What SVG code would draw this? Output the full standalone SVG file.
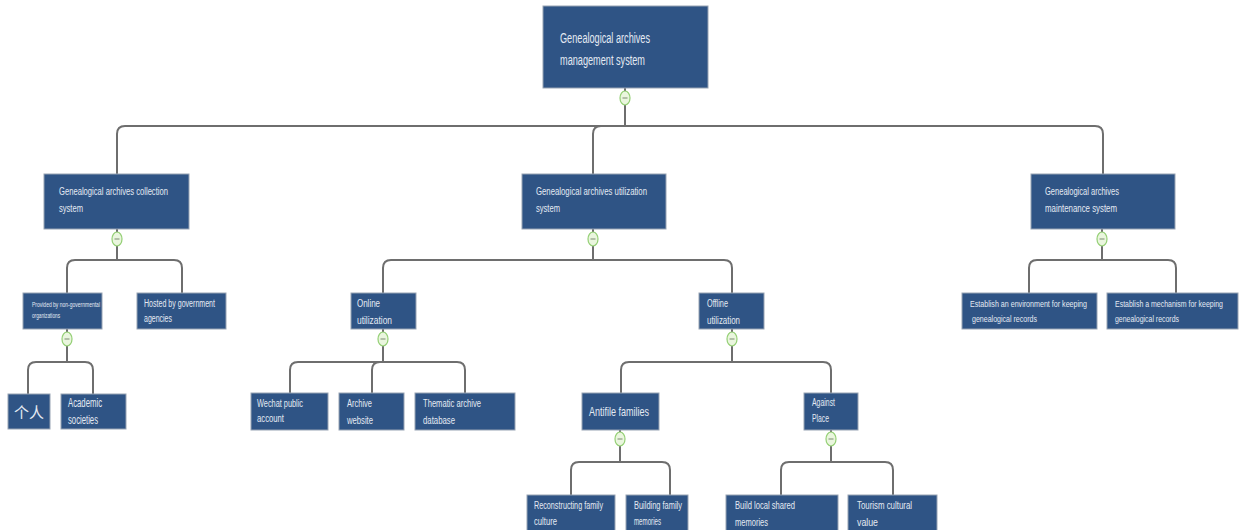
<svg xmlns="http://www.w3.org/2000/svg" width="1241" height="530" viewBox="0 0 1241 530">
<style>
.box{fill:#2f5485;stroke:#98a3b3;stroke-width:1}
.t{fill:#e4eaf3;font-family:"Liberation Sans Narrow","Liberation Sans",Arial,sans-serif}
.c{fill:none;stroke:#6e6e6e;stroke-width:2;stroke-linecap:round}
.k{fill:#eaf6de;stroke:#93cf74;stroke-width:1.2}
.m{stroke:#7a8a70;stroke-width:1}
</style>
<rect width="1241" height="530" fill="#ffffff"/>
<defs>
<g id="col"><ellipse cx="0" cy="0" rx="5" ry="7" class="k"/><line x1="-2.5" y1="0" x2="2.5" y2="0" class="m"/></g>
</defs>
<g id="connectors">
<path class="c" d="M625,88 V91 M625,105 V126"/>
<path class="c" d="M625,126 H125 Q117,126 117,134 V174"/>
<path class="c" d="M625,126 H601 Q593,126 593,134 V174"/>
<path class="c" d="M625,126 H1095 Q1103,126 1103,134 V174"/>
<path class="c" d="M117,229 V232 M117,246 V260 H75 Q67,260 67,268 V293 M117,260 H174 Q182,260 182,268 V293"/>
<path class="c" d="M593,229 V232 M593,246 V260 H391 Q383,260 383,268 V293 M593,260 H724 Q732,260 732,268 V293"/>
<path class="c" d="M1102,229 V232 M1102,246 V260 H1037 Q1029,260 1029,268 V293 M1102,260 H1168 Q1176,260 1176,268 V293"/>
<path class="c" d="M67,329 V332 M67,346 V362 H36 Q28,362 28,370 V394 M67,362 H85 Q93,362 93,370 V394"/>
<path class="c" d="M383,329 V332 M383,346 V362 H298 Q290,362 290,370 V393 M383,362 H380 Q372,362 372,370 V393 M383,362 H457 Q465,362 465,370 V393"/>
<path class="c" d="M732,329 V332 M732,346 V362 H629 Q621,362 621,370 V393 M732,362 H823 Q831,362 831,370 V393"/>
<path class="c" d="M620,430 V432 M620,446 V462 H579 Q571,462 571,470 V495 M620,462 H662 Q670,462 670,470 V495"/>
<path class="c" d="M831,430 V432 M831,446 V462 H789 Q781,462 781,470 V495 M831,462 H885 Q893,462 893,470 V495"/>
<use href="#col" x="625" y="98"/>
<use href="#col" x="117" y="239"/>
<use href="#col" x="593" y="239"/>
<use href="#col" x="1102" y="239"/>
<use href="#col" x="67" y="339"/>
<use href="#col" x="383" y="339"/>
<use href="#col" x="732" y="339"/>
<use href="#col" x="620" y="439"/>
<use href="#col" x="831" y="439"/>
</g>
<g id="root"><rect class="box" x="543" y="6" width="165" height="82"/>
<text class="t" font-size="14" x="560" y="43" textLength="90" lengthAdjust="spacingAndGlyphs">Genealogical archives</text>
<text class="t" font-size="14" x="560" y="65" textLength="85" lengthAdjust="spacingAndGlyphs">management system</text></g>
<g id="collection"><rect class="box" x="44" y="174" width="145" height="55"/>
<text class="t" font-size="11" x="59" y="195" textLength="109" lengthAdjust="spacingAndGlyphs">Genealogical archives collection</text>
<text class="t" font-size="11" x="59" y="212" textLength="24" lengthAdjust="spacingAndGlyphs">system</text></g>
<g id="utilization"><rect class="box" x="522" y="174" width="144" height="55"/>
<text class="t" font-size="11" x="536" y="195" textLength="111" lengthAdjust="spacingAndGlyphs">Genealogical archives utilization</text>
<text class="t" font-size="11" x="536" y="212" textLength="24" lengthAdjust="spacingAndGlyphs">system</text></g>
<g id="maintenance"><rect class="box" x="1031" y="174" width="144" height="55"/>
<text class="t" font-size="11" x="1045" y="195" textLength="74" lengthAdjust="spacingAndGlyphs">Genealogical archives</text>
<text class="t" font-size="11" x="1045" y="212" textLength="72" lengthAdjust="spacingAndGlyphs">maintenance system</text></g>
<g id="provided"><rect class="box" x="23" y="293" width="79" height="36"/>
<text class="t" font-size="6.5" x="32" y="307" textLength="68" lengthAdjust="spacingAndGlyphs">Provided by non-governmental</text>
<text class="t" font-size="6.5" x="32" y="318" textLength="28" lengthAdjust="spacingAndGlyphs">organizations</text></g>
<g id="hosted"><rect class="box" x="137" y="293" width="89" height="36"/>
<text class="t" font-size="10" x="144" y="307" textLength="71" lengthAdjust="spacingAndGlyphs">Hosted by government</text>
<text class="t" font-size="10" x="144" y="322" textLength="28" lengthAdjust="spacingAndGlyphs">agencies</text></g>
<g id="geren"><rect class="box" x="8" y="394" width="42" height="35"/>
<text class="t" font-size="15" x="29" y="418" text-anchor="middle" style="font-family:'Noto Sans CJK SC',sans-serif">个人</text></g>
<g id="academic"><rect class="box" x="61" y="394" width="65" height="35"/>
<text class="t" font-size="12" x="68" y="407" textLength="34" lengthAdjust="spacingAndGlyphs">Academic</text>
<text class="t" font-size="12" x="68" y="424" textLength="30" lengthAdjust="spacingAndGlyphs">societies</text></g>
<g id="online"><rect class="box" x="351" y="293" width="65" height="36"/>
<text class="t" font-size="11" x="357" y="307" textLength="23" lengthAdjust="spacingAndGlyphs">Online</text>
<text class="t" font-size="11" x="357" y="324" textLength="35" lengthAdjust="spacingAndGlyphs">utilization</text></g>
<g id="offline"><rect class="box" x="699" y="293" width="65" height="36"/>
<text class="t" font-size="11" x="707" y="307" textLength="21" lengthAdjust="spacingAndGlyphs">Offline</text>
<text class="t" font-size="11" x="707" y="324" textLength="33" lengthAdjust="spacingAndGlyphs">utilization</text></g>
<g id="env"><rect class="box" x="962" y="293" width="135" height="36"/>
<text class="t" font-size="9" x="970" y="307" textLength="117" lengthAdjust="spacingAndGlyphs">Establish an environment for keeping</text>
<text class="t" font-size="9" x="972" y="322" textLength="65" lengthAdjust="spacingAndGlyphs">genealogical records</text></g>
<g id="mech"><rect class="box" x="1107" y="293" width="131" height="36"/>
<text class="t" font-size="9" x="1115" y="307" textLength="108" lengthAdjust="spacingAndGlyphs">Establish a mechanism for keeping</text>
<text class="t" font-size="9" x="1115" y="322" textLength="64" lengthAdjust="spacingAndGlyphs">genealogical records</text></g>
<g id="wechat"><rect class="box" x="251" y="393" width="77" height="37"/>
<text class="t" font-size="10" x="257" y="407" textLength="46" lengthAdjust="spacingAndGlyphs">Wechat public</text>
<text class="t" font-size="10" x="257" y="422" textLength="27" lengthAdjust="spacingAndGlyphs">account</text></g>
<g id="website"><rect class="box" x="339" y="393" width="65" height="37"/>
<text class="t" font-size="11" x="347" y="407" textLength="25" lengthAdjust="spacingAndGlyphs">Archive</text>
<text class="t" font-size="11" x="347" y="424" textLength="26" lengthAdjust="spacingAndGlyphs">website</text></g>
<g id="thematic"><rect class="box" x="415" y="393" width="100" height="37"/>
<text class="t" font-size="11" x="423" y="407" textLength="58" lengthAdjust="spacingAndGlyphs">Thematic archive</text>
<text class="t" font-size="11" x="423" y="424" textLength="32" lengthAdjust="spacingAndGlyphs">database</text></g>
<g id="antifile"><rect class="box" x="582" y="393" width="77" height="37"/>
<text class="t" font-size="13" x="589" y="416" textLength="60" lengthAdjust="spacingAndGlyphs">Antifile families</text></g>
<g id="against"><rect class="box" x="804" y="393" width="54" height="37"/>
<text class="t" font-size="10" x="812" y="406" textLength="23" lengthAdjust="spacingAndGlyphs">Against</text>
<text class="t" font-size="10" x="812" y="422" textLength="17" lengthAdjust="spacingAndGlyphs">Place</text></g>
<g id="reconstructing"><rect class="box" x="527" y="495" width="88" height="40"/>
<text class="t" font-size="10" x="534" y="509" textLength="69" lengthAdjust="spacingAndGlyphs">Reconstructing family</text>
<text class="t" font-size="10" x="534" y="525" textLength="23" lengthAdjust="spacingAndGlyphs">culture</text></g>
<g id="building"><rect class="box" x="626" y="495" width="62" height="40"/>
<text class="t" font-size="10" x="634" y="509" textLength="48" lengthAdjust="spacingAndGlyphs">Building family</text>
<text class="t" font-size="10" x="634" y="525" textLength="27" lengthAdjust="spacingAndGlyphs">memories</text></g>
<g id="local"><rect class="box" x="726" y="495" width="112" height="40"/>
<text class="t" font-size="11" x="735" y="509" textLength="60" lengthAdjust="spacingAndGlyphs">Build local shared</text>
<text class="t" font-size="11" x="735" y="526" textLength="33" lengthAdjust="spacingAndGlyphs">memories</text></g>
<g id="tourism"><rect class="box" x="848" y="495" width="89" height="40"/>
<text class="t" font-size="11" x="857" y="509" textLength="55" lengthAdjust="spacingAndGlyphs">Tourism cultural</text>
<text class="t" font-size="11" x="857" y="526" textLength="21" lengthAdjust="spacingAndGlyphs">value</text></g>
</svg>
